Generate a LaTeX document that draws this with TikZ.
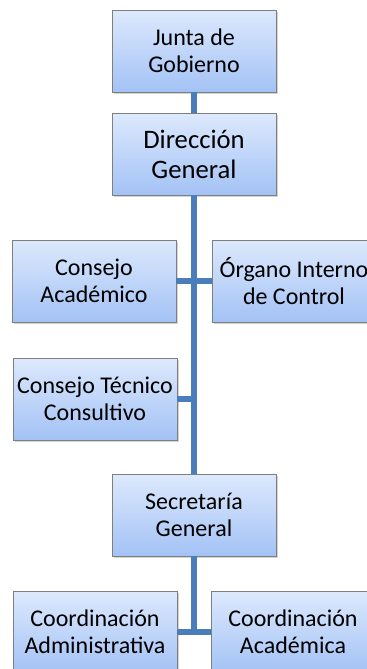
\documentclass[tikz,border=0pt]{standalone}
\usepackage{fontspec}
\setmainfont{Carlito}
\usetikzlibrary{shadows}
\definecolor{linkblue}{HTML}{4A7EBB}
\definecolor{boxtop}{HTML}{DDE9FD}
\definecolor{boxbottom}{HTML}{A3C2F5}
\definecolor{boxline}{HTML}{7F7F7F}
\begin{document}
\begin{tikzpicture}[x=0.75pt,y=-0.75pt,
	unit/.style={draw=boxline,line width=0.6pt,top color=boxtop,bottom color=boxbottom,
		minimum width=123pt,minimum height=61.5pt,inner sep=0pt,align=center,
		font=\fontsize{18}{20.5}\selectfont,
		drop shadow={shadow xshift=1.2pt,shadow yshift=-1.5pt,opacity=0.35}},
	bigunit/.style={unit,font=\fontsize{20}{22.5}\selectfont},
	link/.style={draw=linkblue,line width=4.5pt}]
		\clip (0,0) rectangle (367,669);
		\node[unit] (junta) at (194,51) {Junta de\\Gobierno};
		\node[bigunit] (direccion) at (194,154) {Dirección\\General};
		\node[unit] (consejoA) at (94,281) {Consejo\\Académico};
		\node[unit] (organo) at (294,281) {Órgano Interno\\de Control};
		\node[unit] (consejoT) at (95,399) {Consejo Técnico\\Consultivo};
		\node[unit] (secretaria) at (194,515) {Secretaría\\General};
		\node[unit] (coordAdm) at (95,632) {Coordinación\\Administrativa};
		\node[unit] (coordAca) at (293,632) {Coordinación\\Académica};

		\draw[link] (junta) -- (direccion);
		\draw[link] (direccion) -- (secretaria);
		\draw[link] (consejoA) -- (organo);
		\draw[link] (consejoT.east) -- (consejoT.east -| direccion.south);
		\draw[link] (secretaria) -- (secretaria.south |- coordAdm.east);
		\draw[link] (coordAdm) -- (coordAca);
\end{tikzpicture}
\end{document}
